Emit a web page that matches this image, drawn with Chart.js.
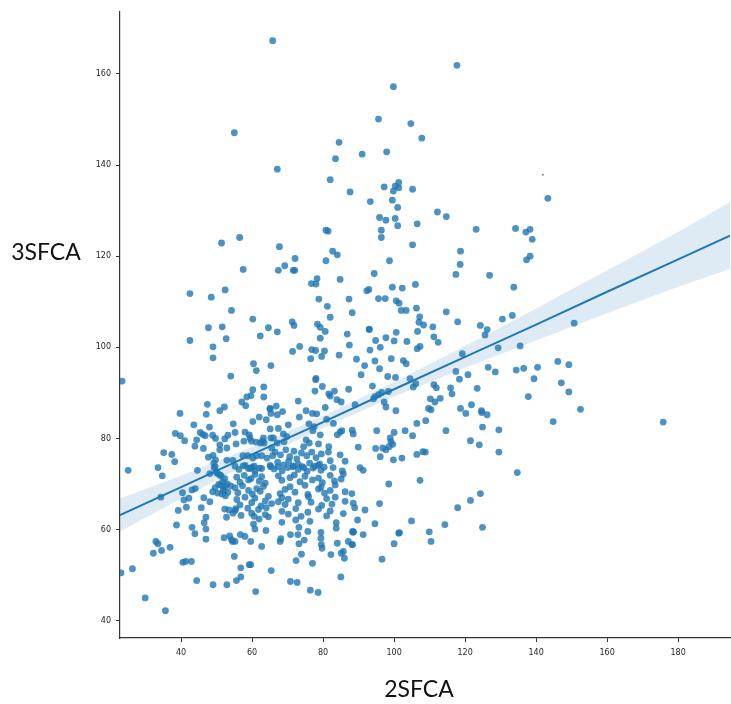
<!DOCTYPE html>
<html>
<head>
<meta charset="utf-8">
<script src="https://cdn.jsdelivr.net/npm/chart.js@4.4.1/dist/chart.umd.min.js"></script>
<style>
  html, body { margin: 0; padding: 0; background: #ffffff; }
  #wrap { position: relative; width: 731px; height: 704px; }
  canvas { display: block; }
</style>
</head>
<body>
<div id="wrap"><canvas id="chart" width="731" height="704"></canvas></div>
<script>
// 2SFCA (x) vs 3SFCA (y) accessibility scores, one [x, y] pair per area.
const upperPoints = [
  [65.8,167.3],[55.0,147.1],[67.1,139.1],[51.4,122.9],[56.5,124.1],[67.7,122.1],[72.1,119.5],[69.2,117.9],
  [57.5,117.1],[67.4,116.9],[71.6,116.9],[72.0,116.9],[78.3,115.1],[76.7,114.0],[78.0,113.9],[42.5,111.8],
  [48.5,111.0],[52.4,112.6],[78.8,110.6],[54.2,108.1],[60.2,106.2],[71.3,105.6],[71.8,104.8],[78.4,105.1],
  [47.7,104.3],[51.6,104.5],[64.6,104.3],
  [117.7,161.9],[99.8,157.2],[95.6,150.1],[104.7,149.1],[107.8,145.9],[84.5,145.0],[91.0,142.4],[97.9,142.9],
  [83.5,141.4],[82.0,136.8],[87.6,134.1],[97.2,135.2],[101.3,136.2],[100.3,135.4],[99.8,134.3],[101.3,135.0],
  [105.2,134.7],[93.3,132.0],[99.5,132.3],[101.0,130.7],[112.2,129.7],[114.7,128.7],[95.9,128.5],[97.7,127.9],
  [100.3,128.3],[106.5,127.1],[101.0,126.7],[96.4,125.7],[96.4,124.1],[80.8,125.7],[81.4,125.5],[123.1,125.9],
  [134.2,126.1],[137.1,125.3],[138.3,125.9],[105.2,122.5],[82.7,121.1],[84.0,120.3],[80.8,119.0],[118.7,121.1],
  [118.6,118.2],[98.7,119.0],[117.4,116.0],[126.9,115.8],[94.4,116.2],[106.0,113.8],[84.8,114.9],[133.7,113.2],
  [137.3,119.2],[138.3,120.0],[138.9,123.7],[143.3,132.7],[150.7,105.3],[99.5,113.2],[102.3,113.0],[92.3,112.4],
  [92.9,112.7],[87.3,110.6],[95.6,110.7],[97.5,110.7],[100.6,110.2],[101.4,109.7],[102.0,108.1],[103.4,108.1],
  [106.3,108.6],[107.2,106.7],[107.0,105.5],[108.3,104.9],[114.7,107.8],[117.9,105.6],[124.3,104.8],[130.5,106.2],
  [133.3,107.0],[81.2,109.0],[82.0,106.6],[88.2,107.6],[110.9,104.5],[93.0,104.0]
];

const middlePoints = [
  [23.4,92.6],[42.5,101.5],[52.7,101.9],[49.0,100.1],[49.0,97.7],[62.3,102.5],[60.4,96.4],[61.2,94.9],
  [65.3,96.0],[54.0,93.7],[63.3,91.3],[60.2,90.7],[58.5,89.1],[59.7,89.4],[57.1,88.0],[58.2,87.2],
  [63.3,89.1],[65.0,86.5],[47.4,87.5],[47.1,85.3],[50.9,86.1],[52.2,86.9],[39.7,85.5],
  [67.1,103.4],[79.2,104.4],[80.6,103.5],[79.2,102.0],[86.8,102.9],[93.0,103.9],[100.6,103.3],[106.6,103.5],
  [94.8,101.5],[97.7,102.1],[100.0,101.4],[103.6,101.3],[87.4,100.5],[93.2,99.4],[96.1,100.0],[106.5,99.7],
  [107.3,100.2],[71.4,99.1],[73.4,100.2],[76.8,99.5],[77.9,99.3],[80.4,99.2],[76.5,97.5],[79.6,98.0],
  [84.5,98.3],[89.4,97.4],[91.7,96.0],[94.6,97.0],[99.2,97.5],[102.6,97.1],[103.4,96.4],[95.9,95.3],
  [90.7,94.0],[98.2,93.6],[100.4,93.4],[104.5,93.1],[106.1,92.0],[105.4,91.3],[78.0,93.2],[77.9,92.9],
  [79.8,91.4],[87.2,90.8],[93.9,91.5],[77.7,90.4],[81.6,89.8],[82.0,89.3],[83.2,90.4],[83.9,88.5],
  [85.1,88.0],[73.0,88.2],[94.6,89.2],[95.6,89.6],[96.5,90.1],[98.4,90.3],[94.2,88.7],[97.2,88.0],
  [97.7,86.9],[89.0,87.4],[100.5,86.1],[109.7,86.6],[66.8,87.1],[68.6,85.9],[65.1,86.6],[65.3,85.5],
  [67.1,85.2],[75.2,86.1],[77.0,85.5],[78.2,85.4],[80.6,86.8],
  [126.2,103.9],[125.6,102.7],[111.2,102.3],[112.4,101.1],[119.2,98.6],[129.3,99.9],[135.5,100.3],[126.5,95.6],
  [128.5,94.6],[134.4,95.0],[136.5,95.4],[140.4,95.6],[146.1,96.9],[149.2,96.2],[147.1,92.2],[149.2,90.2],
  [139.4,93.1],[137.8,89.2],[117.4,94.7],[120.8,94.0],[118.4,93.0],[123.4,91.0],[115.9,91.1],[116.3,89.8],
  [111.2,91.8],[111.9,91.1],[110.2,88.7],[111.5,88.0],[113.0,88.8],[118.7,86.6],[121.8,87.4],[124.6,86.1],
  [124.7,85.7],[126.2,85.2],[110.4,86.3],[120.2,85.5],[152.5,86.4]
];

const lowerMiddlePoints = [
  [62.0,84.7],[60.2,83.7],[64.0,84.1],[65.1,82.1],[43.6,83.0],[48.0,82.5],[54.7,83.2],[38.4,81.1],
  [39.8,80.6],[41.0,79.5],[45.4,81.3],[46.1,80.9],[46.8,80.6],[44.4,79.7],[43.9,78.3],[46.3,77.8],
  [48.9,80.7],[49.7,80.0],[52.3,79.9],[53.2,80.7],[55.2,81.3],[50.9,78.6],[50.9,77.5],[52.9,77.9],
  [55.5,78.8],[58.0,81.4],[59.2,80.8],[59.4,80.1],[59.8,79.4],[57.7,79.4],[61.1,79.2],[62.3,79.0],
  [63.2,80.1],[62.9,79.4],[63.4,79.0],[65.3,80.1],[35.1,76.9],[37.4,76.5],[38.2,74.9],[25.1,73.0],
  [33.5,73.6],[44.6,73.0],[47.7,75.9],[49.0,76.3],[49.7,75.3],[49.2,74.6],[52.9,75.2],[54.6,75.2],
  [57.4,76.2],[58.8,76.2],[60.2,75.7],[61.3,76.2],[62.7,76.2],[64.2,75.7],[65.8,76.2],[58.1,74.1],
  [59.6,73.4],[60.6,73.9],[62.7,73.4],[49.6,73.8],[65.2,73.8],
  [81.0,84.2],[73.3,84.7],[82.9,83.3],[76.0,83.2],[77.5,82.6],[70.2,83.0],[67.4,82.2],[68.8,81.0],
  [69.8,80.4],[69.0,79.3],[66.0,80.1],[65.5,77.9],[67.1,79.0],[75.2,79.7],[76.1,79.0],[74.5,78.2],
  [77.1,81.7],[79.2,80.8],[78.7,78.8],[81.6,78.2],[84.0,80.8],[85.3,81.7],[84.8,81.4],[88.5,81.0],
  [88.2,81.8],[89.9,78.1],[95.1,81.7],[100.0,81.3],[103.1,81.7],[105.2,80.6],[98.9,80.1],[99.1,79.3],
  [99.6,78.7],[98.6,78.2],[97.7,77.5],[96.8,77.9],[94.8,77.8],[96.1,76.0],[99.8,75.3],[102.2,75.7],
  [108.1,77.1],[106.4,76.5],[84.8,76.4],[86.2,75.0],[82.0,75.1],[106.4,83.3],[108.9,83.9],
  [124.9,82.5],[129.5,81.9],[114.6,81.7],[121.5,79.5],[124.0,78.6],[129.5,77.0],[108.8,77.0],[144.8,83.7],
  [175.8,83.6],
  [66.5,77.0],[68.0,76.4],[69.5,77.5],[70.6,76.0],[71.8,77.2],[72.6,75.5],[73.9,76.8],[75.4,76.2],
  [76.8,77.0],[78.0,75.8],[79.5,76.6],[67.2,74.8],[68.9,74.2],[70.3,75.0],[71.5,73.8],[73.0,74.3],
  [74.6,73.6],[76.2,74.6],[77.6,73.9],[79.0,74.4],[80.3,73.7],[81.5,77.0]
];

const corePoints = [
  [55.2,73.9],[56.3,73.2],[57.5,74.0],[58.9,73.4],[60.0,73.7],[60.8,72.9],[62.0,73.5],[65.1,74.1],
  [66.2,73.3],[67.3,73.8],[68.5,72.9],[70.1,73.6],[71.6,74.0],[73.0,73.2],[74.1,73.8],[75.5,72.8],
  [77.2,73.5],[78.6,74.1],[79.4,73.0],[82.8,73.6],[85.4,72.9],
  [55.7,71.5],[56.6,70.4],[57.8,71.9],[59.0,70.9],[59.7,71.2],[60.8,72.1],[62.0,70.6],[62.7,71.6],
  [63.7,70.2],[67.4,71.8],[68.4,70.8],[70.7,71.4],[71.9,72.0],[73.5,70.5],[74.9,71.7],[77.0,70.9],
  [78.7,71.3],[79.8,70.3],[82.0,71.9],[83.2,70.7],[85.1,71.1],[85.7,72.2],
  [55.2,69.2],[56.0,68.1],[57.3,69.6],[59.0,68.6],[60.1,67.8],[61.3,69.0],[62.3,68.4],[63.2,69.5],
  [67.9,67.9],[69.3,68.8],[70.7,69.4],[72.1,68.2],[74.9,69.7],[75.7,67.7],[78.7,68.9],[79.4,69.3],
  [80.4,68.0],[82.0,68.6],[83.4,69.8],[86.2,68.3],[88.1,67.9],
  [55.7,66.6],[56.6,65.4],[58.0,67.1],[59.9,65.9],[60.8,66.9],[62.5,65.2],[63.7,66.3],[64.6,67.3],
  [65.5,65.7],[67.4,66.1],[68.4,67.0],[69.3,65.5],[70.2,66.7],[73.0,65.9],[75.9,67.2],[76.6,66.0],
  [79.6,65.3],[81.0,66.8],[82.5,65.6],[83.4,67.1],[86.2,66.2],[88.5,65.8],
  [55.2,64.2],[56.9,63.1],[58.8,64.7],[59.9,63.6],[60.6,62.9],[61.8,64.4],[63.7,63.3],[64.0,64.8],
  [64.6,62.8],[68.4,64.0],[70.2,63.4],[72.3,64.6],[73.8,62.9],[75.7,63.8],[78.7,64.5],[81.0,63.0],
  [82.0,64.1],[85.7,63.5],
  [60.4,61.2],[60.8,60.1],[62.0,62.3],[63.9,59.8],[68.4,61.6],[72.3,62.1],[73.2,60.5],[76.3,61.8],
  [83.7,60.3],[88.3,59.6],
  [48.1,72.3],[49.3,73.6],[50.3,72.3],[50.9,72.0],[49.9,72.6],[51.3,71.8],[51.7,70.5],[52.3,71.2],
  [53.0,70.0],[52.5,69.5],[52.0,68.5],[51.5,67.8],[50.6,69.9],[49.6,69.2],[48.9,68.3],[50.3,68.0],
  [51.9,68.9],[51.2,69.8],[54.0,69.6],[53.2,68.2],[52.5,67.4],[34.7,71.8]
];

const lowerPoints = [
  [40.4,68.1],[40.8,66.5],[42.2,66.9],[43.1,68.7],[44.0,69.0],[34.3,67.1],[46.4,67.0],[48.1,66.1],
  [39.2,64.2],[41.5,64.9],[45.7,64.8],[52.3,64.5],[53.5,64.3],[54.6,63.6],[52.8,62.7],[55.4,64.6],
  [47.0,62.7],[46.5,61.5],[47.0,60.1],[38.7,61.0],[43.1,60.5],[43.9,59.1],[47.0,57.9],[52.1,58.2],
  [53.7,58.6],[54.5,57.4],[54.2,57.8],[32.9,57.4],[33.5,56.9],[32.2,54.8],[34.5,55.4],[36.9,56.1],
  [55.0,54.1],[40.5,52.8],[41.3,53.0],[42.9,53.0],[23.1,50.5],[26.3,51.4],[44.4,48.8],[49.0,47.9],
  [52.9,47.9],[55.6,48.8],[29.9,45.0],[35.6,42.2],
  [56.7,58.9],[58.0,58.5],[59.6,57.4],[62.7,56.3],[59.2,52.3],[59.6,52.3],[56.8,51.6],[65.4,51.0],
  [56.8,49.6],[61.0,46.4],[70.8,48.6],[72.7,48.4],[76.4,46.7],[78.6,46.2],[85.0,49.6],[72.4,53.2],
  [77.0,52.6],[73.9,54.6],[74.7,57.7],[75.7,59.6],[73.2,56.9],[79.4,59.4],[79.4,58.1],[79.5,56.7],
  [79.7,55.9],[82.2,54.5],[84.0,57.0],[85.1,54.8],[86.0,53.7],[85.7,55.2],[87.1,57.4],[88.1,56.7],
  [88.4,59.4],[83.7,61.5],[68.1,58.0],[67.9,57.4],[70.8,58.9],[72.9,58.9],[55.2,57.4],
  [90.4,73.6],[91.3,73.0],[98.5,70.0],[107.3,70.8],[95.9,65.7],[88.9,64.8],[91.8,64.3],[89.7,62.1],
  [94.6,61.3],[104.9,61.9],[88.6,59.5],[91.3,58.9],[88.3,56.7],[101.3,59.2],[101.5,59.3],[100.0,56.9],
  [96.6,53.5],[109.9,59.5],[110.4,57.4],[114.3,61.1],[117.9,64.8],[121.5,66.4],
  [134.7,72.5],[124.3,67.9],[124.9,60.5]
];

// Regression fit and its confidence band, sampled along the 2SFCA axis.
const fitX   = [22.8, 40, 60, 80, 100, 120, 140, 160, 180, 194.6];
const fitY   = [63.2, 69.3, 76.5, 83.6, 90.8, 97.9, 105.0, 112.2, 119.3, 124.5];
const ciLow  = [59.6, 66.8, 74.9, 82.3, 89.2, 95.5, 101.5, 107.5, 113.3, 117.2];
const ciHigh = [66.8, 71.8, 78.1, 84.9, 92.4, 100.3, 108.5, 116.9, 125.3, 131.9];

// A stray speck left on the plot.
const strayMark = [[141.9, 137.9]];

const xRange = [22.8, 194.6];
const yRange = [36.2, 173.6];
const xTicks = [40, 60, 80, 100, 120, 140, 160, 180];
const yTicks = [40, 60, 80, 100, 120, 140, 160];
const xTitle = '2SFCA';
const yTitle = '3SFCA';

const toXY = pairs => pairs.map(([x, y]) => ({ x, y }));
const allPoints = [].concat(upperPoints, middlePoints, lowerMiddlePoints, corePoints, lowerPoints);
const curve = ys => fitX.map((x, i) => ({ x, y: ys[i] }));

const blue = '#1f77b4';
const axisColor = '#333333';
const tickFont = { family: 'DejaVu Sans', size: 8 };

// Horizontal axis titles, placed beside / under the plot.
const axisTitles = {
  id: 'axisTitles',
  afterDraw(chart) {
    const { ctx } = chart;
    ctx.save();
    ctx.fillStyle = '#111111';
    ctx.font = '400 23px Lato, "Open Sans", sans-serif';
    ctx.textAlign = 'center';
    ctx.textBaseline = 'middle';
    ctx.fillText(yTitle, 46, 253);
    ctx.fillText(xTitle, 419, 690);
    ctx.restore();
  }
};

new Chart(document.getElementById('chart'), {
  type: 'scatter',
  data: {
    datasets: [
      {
        type: 'line', data: curve(fitY), borderColor: blue, borderWidth: 2,
        pointRadius: 0, fill: false, order: 0, tension: 0
      },
      {
        type: 'line', data: curve(ciHigh), borderWidth: 0, borderColor: 'rgba(0,0,0,0)',
        backgroundColor: 'rgba(31,119,180,0.15)', pointRadius: 0, fill: '+1', order: 1, tension: 0
      },
      {
        type: 'line', data: curve(ciLow), borderWidth: 0, borderColor: 'rgba(0,0,0,0)',
        pointRadius: 0, fill: false, order: 1, tension: 0
      },
      {
        data: toXY(allPoints), backgroundColor: 'rgba(31,119,180,0.8)', borderWidth: 0,
        pointRadius: 3.4, pointHoverRadius: 3.4, order: 2
      },
      {
        data: toXY(strayMark), backgroundColor: '#888888', borderWidth: 0,
        pointRadius: 1, order: 2
      }
    ]
  },
  options: {
    responsive: false,
    animation: false,
    events: [],
    layout: { autoPadding: false, padding: { left: 0, right: 1, top: 12, bottom: 0 } },
    plugins: { legend: { display: false }, tooltip: { enabled: false } },
    scales: {
      x: {
        type: 'linear', min: xRange[0], max: xRange[1],
        afterFit(scale) { scale.height = 66; scale.paddingRight = 0; scale.paddingLeft = 0; },
        afterBuildTicks(scale) { scale.ticks = xTicks.map(v => ({ value: v })); },
        grid: { drawOnChartArea: false, drawTicks: true, tickLength: 4, color: axisColor, lineWidth: 1 },
        border: { display: true, color: axisColor, width: 1.2 },
        ticks: { font: tickFont, color: '#262626', padding: 6, maxRotation: 0, includeBounds: false }
      },
      y: {
        type: 'linear', min: yRange[0], max: yRange[1],
        afterFit(scale) { scale.width = 120; scale.paddingTop = 0; scale.paddingBottom = 0; },
        afterBuildTicks(scale) { scale.ticks = yTicks.map(v => ({ value: v })); },
        grid: { drawOnChartArea: false, drawTicks: true, tickLength: 4, color: axisColor, lineWidth: 1 },
        border: { display: true, color: axisColor, width: 1.2 },
        ticks: { font: tickFont, color: '#262626', padding: 5, includeBounds: false }
      }
    }
  },
  plugins: [axisTitles]
});
</script>
</body>
</html>
